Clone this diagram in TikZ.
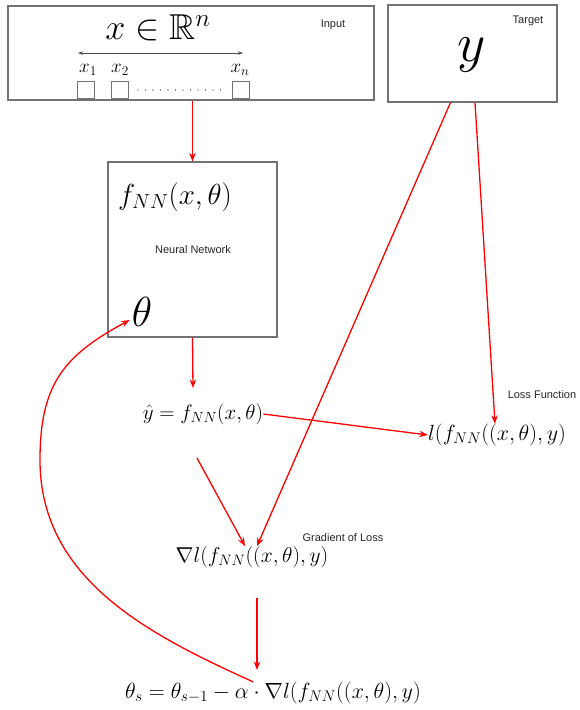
\RequirePackage{fix-cm}
\documentclass[tikz,border=0pt]{standalone}
\usepackage{amssymb}
\DeclareFontFamily{U}{msb}{}
\DeclareFontShape{U}{msb}{m}{n}{<-6>msbm5<6-8>msbm7<8->msbm10}{}
\usepackage{fontspec}
\setsansfont{Liberation Sans}
\usetikzlibrary{arrows.meta,calc}
\newcommand\fsz[1]{\fontsize{#1}{#1}\selectfont}
\begin{document}
\begin{tikzpicture}[x=1pt,y=-1pt,
  box/.style={draw=black!55,line width=1.1pt,inner sep=0pt},
  lbl/.style={font=\sffamily\fsz{11},text=black!85,inner sep=0pt},
  mth/.style={inner sep=0pt},
  sq/.style={draw=black!55,line width=0.8pt,minimum size=17pt,inner sep=0pt},
  rarr/.style={draw=red,line width=1.3pt,-{Stealth[length=8.5pt,width=6.5pt]}},
  rcurve/.style={draw=red,line width=1.3pt,-{Stealth[length=8.5pt,width=6.5pt]}},
  dblarr/.style={draw=black!70,line width=0.6pt,{Stealth[length=5pt,width=3.5pt]}-{Stealth[length=5pt,width=3.5pt]}},
  dotline/.style={draw=black!60,line width=1.2pt,line cap=round,dash pattern=on 0.01pt off 7.5pt}]
\useasboundingbox (0,0) rectangle (579,710);
% input box
\node[box,minimum width=366pt,minimum height=94pt] (input) at (191,53) {};
\node[mth,font=\fsz{36}] (xr) at (158,28) {$x\in\mathbb{R}^n$};
\node[lbl] (inlbl) at (333,25) {Input};
\coordinate (al) at (78,53);
\coordinate (ar) at (243,53);
\draw[dblarr] (al) -- (ar);
\node[mth,font=\fsz{19}] (x1) at (88,70) {$x_1$};
\node[mth,font=\fsz{19}] (x2) at (120,70) {$x_2$};
\node[mth,font=\fsz{19}] (xn) at (240,70) {$x_n$};
\node[sq] (s1) at (86,90) {};
\node[sq] (s2) at (120,90) {};
\node[sq] (sn) at (241,90) {};
\draw[dotline] ([xshift=9pt]s2.east) -- ([xshift=-5pt]sn.west);
% target box
\node[box,minimum width=169pt,minimum height=97pt] (target) at (472.5,53.5) {};
\node[mth,font=\fsz{55}] (yv) at (472,55) {$y$};
\node[lbl] (tlbl) at (528,21) {Target};
% neural network box
\node[box,minimum width=169pt,minimum height=175pt] (nn) at (192.5,249.5) {};
\node[mth,font=\fsz{29}] (fnn) at (175,197) {$f_{NN}(x,\theta)$};
\node[lbl] (nnlbl) at (193,250) {Neural Network};
\node[mth,font=\fsz{42}] (theta) at (142,312) {$\theta$};
% formulas
\node[mth,font=\fsz{21}] (yhat) at (203,414) {$\hat{y}=f_{NN}(x,\theta)$};
\node[mth,font=\fsz{22}] (loss) at (497,435) {$l(f_{NN}((x,\theta),y)$};
\node[lbl] (llbl) at (542,395) {Loss Function};
\node[mth,font=\fsz{21.5}] (grad) at (252,557) {$\nabla l(f_{NN}((x,\theta),y)$};
\node[lbl] (glbl) at (343,538) {Gradient of Loss};
\node[mth,font=\fsz{22}] (upd) at (273,693) {$\theta_s=\theta_{s-1}-\alpha\cdot\nabla l(f_{NN}((x,\theta),y)$};
% connectors
\draw[rarr] (input.south -| nn.north) -- (nn.north);
\coordinate (t1) at (193,388);
\draw[rarr] (nn.south) -- (t1);
\draw[rarr] (yhat.east) -- (loss.west);
\draw[rarr] ([xshift=2.5pt]target.south) -- ([xshift=-2pt]loss.north);
\draw[rarr] ([xshift=-22pt]target.south) -- ([xshift=5pt]grad.north);
\coordinate (c1) at (197,458);
\draw[rarr] (c1) -- ([xshift=-7pt]grad.north);
\coordinate (g1) at (257,598);
\coordinate (g2) at (257,670);
\draw[rarr] (g1) -- (g2);
\coordinate (m1) at (40,460);
\draw[rcurve] ([xshift=-20pt]upd.north) .. controls (150,635) and (40,580) .. (m1)
  .. controls (40,385) and (63,356) .. ([xshift=-2pt,yshift=-8pt]theta.west);
\end{tikzpicture}
\end{document}
